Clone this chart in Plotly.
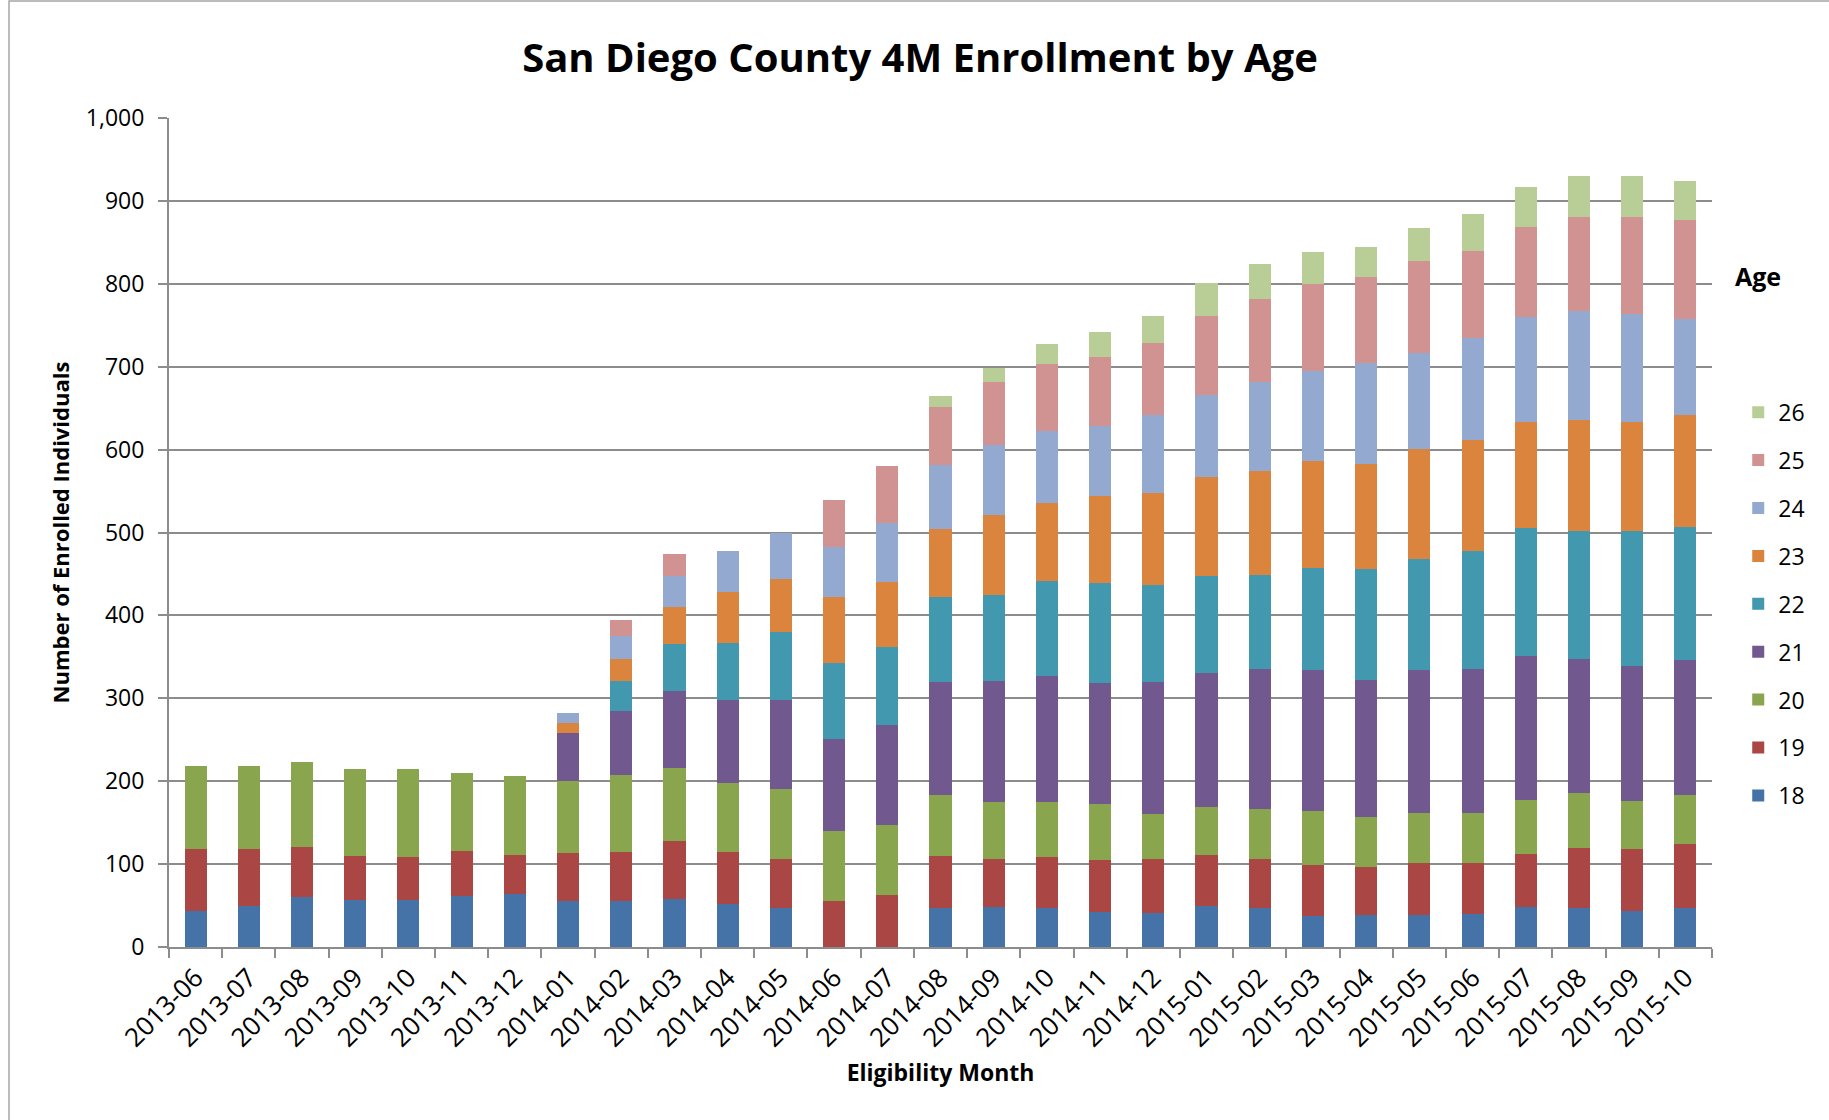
import plotly.graph_objects as go

months = ["2013-06", "2013-07", "2013-08", "2013-09", "2013-10", "2013-11", "2013-12",
          "2014-01", "2014-02", "2014-03", "2014-04", "2014-05", "2014-06", "2014-07",
          "2014-08", "2014-09", "2014-10", "2014-11", "2014-12",
          "2015-01", "2015-02", "2015-03", "2015-04", "2015-05", "2015-06", "2015-07",
          "2015-08", "2015-09", "2015-10"]

N = None
age18 = [43, 50, 60, 57, 57, 62, 64, 56, 56, 58, 52, 47, N, N, 47, 48, 47, 42, 41,
         49, 47, 38, 39, 39, 40, 48, 47, 44, 47]
age19 = [75, 68, 61, 53, 51, 54, 47, 57, 59, 70, 62, 59, 56, 63, 63, 58, 62, 63, 65,
         62, 59, 61, 57, 62, 61, 64, 72, 74, 77]
age20 = [100, 100, 102, 105, 107, 94, 95, 87, 92, 88, 84, 85, 84, 84, 73, 69, 66, 68, 54,
         58, 60, 65, 61, 61, 61, 65, 67, 58, 59]
age21 = [N, N, N, N, N, N, N, 58, 78, 93, 100, 107, 111, 121, 137, 146, 152, 146, 160,
         161, 169, 170, 165, 172, 173, 174, 161, 163, 163]
age22 = [N, N, N, N, N, N, N, N, 36, 56, 69, 82, 91, 94, 102, 104, 115, 120, 117,
         117, 114, 123, 134, 134, 143, 155, 155, 163, 161]
age23 = [N, N, N, N, N, N, N, 12, 27, 45, 61, 64, 80, 78, 82, 96, 93, 105, 111,
         120, 125, 129, 127, 133, 133, 127, 134, 131, 135]
age24 = [N, N, N, N, N, N, N, 12, 27, 38, 50, 55, 60, 71, 77, 85, 88, 85, 94,
         99, 108, 109, 121, 116, 124, 127, 131, 130, 115]
age25 = [N, N, N, N, N, N, N, N, 20, 26, N, N, 57, 69, 70, 75, 80, 83, 86,
         95, 100, 105, 104, 111, 105, 109, 114, 117, 120]
age26 = [N, N, N, N, N, N, N, N, N, N, N, N, N, N, 14, 17, 24, 30, 33,
         40, 42, 38, 37, 39, 44, 48, 49, 50, 47]

ages = ["18", "19", "20", "21", "22", "23", "24", "25", "26"]
series = [age18, age19, age20, age21, age22, age23, age24, age25, age26]
colors = ["#4572A7", "#AA4643", "#89A54E", "#71588F", "#4198AF",
          "#DB843D", "#93A9CF", "#D19392", "#B9CD96"]

FONT = "Open Sans"
GRID = "#8c8c8c"

fig = go.Figure()
for i, (age, vals, col) in enumerate(zip(ages, series, colors)):
    fig.add_trace(go.Bar(x=months, y=vals, name=age, legendgroup=age,
                         legendrank=len(ages) - i,
                         marker=dict(color=col, line=dict(width=0))))

W, H = 1829, 1120
L, R, T, B = 169, 117, 118, 173

fig.update_layout(
    width=W, height=H,
    margin=dict(l=L, r=R, t=T, b=B, autoexpand=False),
    barmode="stack",
    bargap=0.585,
    plot_bgcolor="white",
    paper_bgcolor="white",
    font=dict(family=FONT, color="black", size=23),
    title=dict(text="<b>San Diego County 4M Enrollment by Age</b>",
               font=dict(family=FONT, size=40, color="black"),
               xref="container", x=920 / W, xanchor="center",
               yref="container", y=1 - 58 / H, yanchor="middle"),
    legend=dict(traceorder="grouped", tracegroupgap=15,
                font=dict(family=FONT, size=23, color="black"),
                x=1.017, xanchor="left", y=0.671, yanchor="top",
                bgcolor="rgba(0,0,0,0)"),
    xaxis=dict(type="category", showline=True, linecolor=GRID, linewidth=2,
               ticks="outside", tickson="boundaries", ticklen=9, tickcolor=GRID,
               tickwidth=2, tickangle=-45, ticklabelstandoff=3,
               tickfont=dict(family=FONT, size=26, color="black"),
               title=dict(text="<b>Eligibility Month</b>", standoff=12,
                          font=dict(family=FONT, size=23, color="black"))),
    yaxis=dict(range=[0, 1000], dtick=100, tickformat=",", showgrid=True,
               gridcolor=GRID, gridwidth=2, showline=True, linecolor=GRID, linewidth=2,
               ticks="outside", ticklen=9, tickcolor=GRID, tickwidth=2,
               ticklabelstandoff=9, zeroline=False,
               tickfont=dict(family=FONT, size=23, color="black"),
               title=dict(text="<b>Number of Enrolled Individuals</b>", standoff=10,
                          font=dict(family=FONT, size=22, color="black"))),
)

pw = W - L - R
ph = H - T - B
fig.add_annotation(text="<b>Age</b>", xref="paper", yref="paper",
                   x=(1733 - L) / pw, y=(H - B - 276) / ph, xanchor="left", yanchor="middle",
                   showarrow=False, font=dict(family=FONT, size=25, color="black"))

# outer chart border
fig.add_shape(type="rect", xref="paper", yref="paper",
              x0=(9 - L) / pw, x1=(W + 20 - L) / pw,
              y0=(H - B - (H + 20)) / ph, y1=(H - B - 1) / ph,
              line=dict(color="#a6a6a6", width=1.5), fillcolor="rgba(0,0,0,0)", layer="below")

fig.write_html("out.html", config={"displayModeBar": False},
               post_script="document.body.style.margin='0';document.body.style.padding='0';")
